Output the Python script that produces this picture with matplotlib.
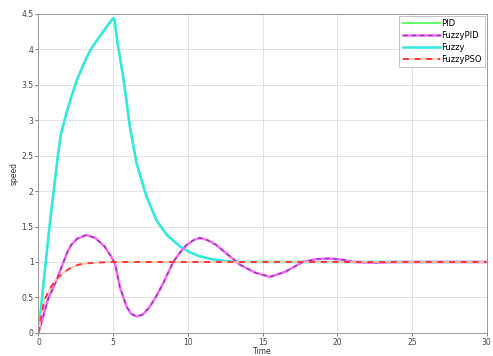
import matplotlib
matplotlib.use("Agg")
import matplotlib.pyplot as plt
from matplotlib.legend_handler import HandlerTuple

# Data
fuzzy_t = [0, 0.18, 0.41, 0.74, 1.08, 1.3, 1.52, 1.85, 2.2, 2.6, 3.0, 3.5, 4.0, 4.5, 5.0,
           5.1, 5.3, 5.67, 6.12, 6.57, 7.24, 7.9, 8.6, 9.47, 10.1, 10.8, 11.6, 12.6, 13.5,
           15, 20, 25, 30]
fuzzy_y = [0, 0.37, 0.84, 1.5, 2.11, 2.5, 2.82, 3.08, 3.33, 3.58, 3.78, 4.0, 4.15, 4.3, 4.44,
           4.41, 4.08, 3.62, 2.91, 2.39, 1.92, 1.59, 1.38, 1.22, 1.14, 1.08, 1.04, 1.01, 1.0,
           1.0, 1.0, 1.0, 1.0]

pid_t = list(fuzzy_t)
pid_y = list(fuzzy_y)

fpid_t = [0, 0.3, 0.63, 1.0, 1.3, 1.64, 1.9, 2.19, 2.6, 3.2, 3.8, 4.42, 4.8, 5.12, 5.45,
          5.9, 6.2, 6.57, 7.0, 7.46, 7.9, 8.35, 9.02, 9.5, 9.92, 10.4, 10.8, 11.3, 11.9,
          12.7, 13.5, 14.5, 15.5, 16.5, 17.7, 18.6, 19.5, 20.4, 21.1, 22.5, 24, 30]
fpid_y = [0, 0.22, 0.47, 0.64, 0.79, 0.98, 1.12, 1.24, 1.33, 1.38, 1.34, 1.22, 1.1, 0.98,
          0.65, 0.37, 0.27, 0.23, 0.26, 0.37, 0.52, 0.70, 1.0, 1.14, 1.24, 1.31, 1.34, 1.31,
          1.24, 1.1, 0.96, 0.85, 0.79, 0.86, 1.0, 1.04, 1.05, 1.03, 1.0, 0.99, 1.0, 1.0]

pso_t = [0, 0.2, 0.41, 0.85, 1.2, 1.64, 2.1, 2.64, 3.2, 3.8, 4.8, 30]
pso_y = [0, 0.25, 0.47, 0.65, 0.76, 0.84, 0.91, 0.96, 0.98, 0.99, 1.0, 1.0]

xticks = [0, 5, 10, 15, 20, 25, 30]
yticks = [0, 0.5, 1, 1.5, 2, 2.5, 3, 3.5, 4, 4.5]

fig = plt.figure(figsize=(4.93, 3.56), dpi=100)
ax = fig.add_axes([0.078, 0.065, 0.909, 0.896])

h_pid, = ax.plot(pid_t, pid_y, color="#66ff66", lw=1.5)
h_fz, = ax.plot(fuzzy_t, fuzzy_y, color="#33e8e0", lw=1.8)
h_fp1, = ax.plot(fpid_t, fpid_y, color="#ff66ff", lw=1.8)
h_fp2, = ax.plot(fpid_t, fpid_y, color="#774499", lw=1.0, ls=(0, (3, 3)))
h_ps1, = ax.plot(pso_t, pso_y, color="#ffc9a0", lw=1.2)
h_ps2, = ax.plot(pso_t, pso_y, color="#ff3344", lw=1.4, ls=(0, (3, 3)))

ax.set_xlim(0, 30)
ax.set_ylim(0, 4.5)
ax.set_xticks(xticks)
ax.set_xticklabels([str(v) for v in xticks])
ax.set_yticks(yticks)
ax.set_yticklabels([("%g" % v) for v in yticks])
ax.tick_params(labelsize=5.5, length=2, width=0.5, colors="#444444", pad=1.5)
ax.grid(True, color="#dddddd", lw=0.6)
for s in ax.spines.values():
    s.set_color("#999999")
    s.set_linewidth(0.7)
ax.set_xlabel("Time", fontsize=5.5, labelpad=0, color="#333333")
ax.set_ylabel("speed", fontsize=5.5, labelpad=2, color="#333333")

leg = ax.legend([h_pid, (h_fp1, h_fp2), h_fz, (h_ps1, h_ps2)],
                ["PID", "FuzzyPID", "Fuzzy", "FuzzyPSO"],
                handler_map={tuple: HandlerTuple(ndivide=1)},
                loc="upper right", fontsize=6, frameon=True, fancybox=False,
                edgecolor="#aaaaaa", handlelength=4.5, handletextpad=0.1,
                borderpad=0.4, labelspacing=0.35, borderaxespad=0.2)
leg.get_frame().set_linewidth(0.6)

fig.savefig("out.png", dpi=100)
